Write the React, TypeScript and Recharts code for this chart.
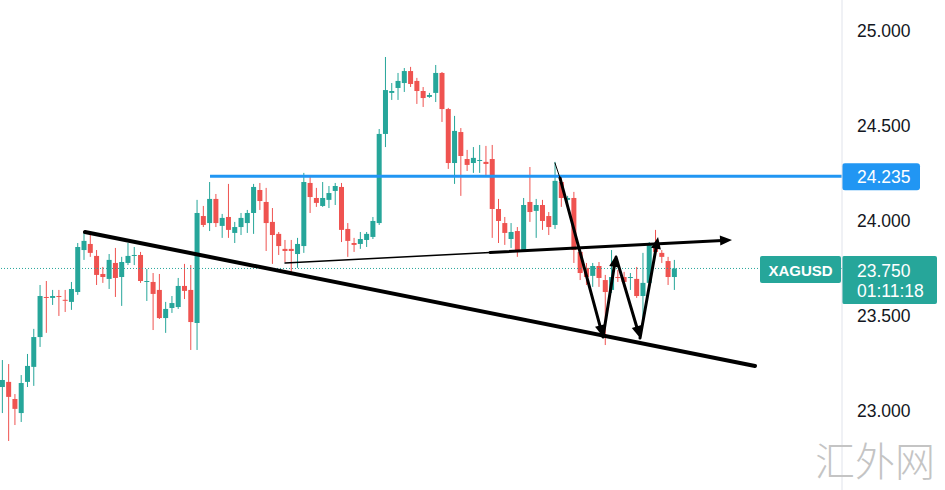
import React from "react";
import { ComposedChart, Bar, XAxis, YAxis, ReferenceLine } from "recharts";

// XAGUSD candles
const opens = [
  23.126, 23.153, 23.063, 22.989, 23.153, 23.232, 23.389, 23.6, 23.595, 23.605,
  23.585, 23.574, 23.626, 23.847, 23.879, 23.816, 23.721, 23.695, 23.779, 23.705,
  23.779, 23.816, 23.821, 23.679, 23.679, 23.637, 23.489, 23.542, 23.547, 23.658,
  23.637, 23.463, 24.026, 23.989, 24.116, 23.974, 24.021, 23.937, 23.968, 23.989,
  24.042, 24.163, 24.1, 23.995, 23.932, 23.853, 23.853, 23.826, 23.868, 24.2,
  24.121, 24.079, 24.111, 24.158, 24.179, 23.958, 23.884, 23.879, 23.9, 23.916,
  23.989, 24.458, 24.674, 24.7, 24.726, 24.789, 24.737, 24.684, 24.653, 24.674,
  24.779, 24.589, 24.305, 24.468, 24.326, 24.305, 24.316, 24.311, 24.326, 24.063,
  23.989, 23.905, 23.947, 23.847, 24.1, 24.053, 24.084, 24.026, 23.979, 24.205,
  24.111, 24.121, 23.837, 23.753, 23.711, 23.763, 23.689, 23.637, 23.705, 23.705,
  23.7, 23.695, 23.605, 23.674, 23.863, 23.832, 23.789, 23.705,
];
const highs = [
  23.268, 23.247, 23.089, 23.189, 23.3, 23.432, 23.663, 23.684, 23.637, 23.637,
  23.637, 23.679, 23.884, 23.937, 23.942, 23.847, 23.758, 23.826, 23.858, 23.811,
  23.884, 23.863, 23.837, 23.747, 23.726, 23.721, 23.574, 23.605, 23.7, 23.774,
  23.768, 24.111, 24.079, 24.205, 24.142, 24.037, 24.195, 23.995, 24.042, 24.058,
  24.195, 24.2, 24.174, 24.068, 23.942, 23.9, 23.9, 23.911, 24.253, 24.242,
  24.174, 24.205, 24.184, 24.2, 24.2, 23.989, 23.911, 23.942, 23.942, 24.021,
  24.484, 24.863, 24.726, 24.779, 24.805, 24.811, 24.753, 24.705, 24.674, 24.821,
  24.784, 24.595, 24.553, 24.489, 24.374, 24.389, 24.4, 24.395, 24.4, 24.116,
  24.021, 23.989, 23.968, 24.121, 24.284, 24.116, 24.111, 24.047, 24.311, 24.232,
  24.132, 24.153, 23.858, 23.779, 23.779, 23.784, 23.716, 23.847, 23.742, 23.732,
  23.726, 23.758, 23.832, 23.889, 23.953, 23.847, 23.811, 23.795,
];
const lows = [
  22.989, 22.842, 22.926, 22.942, 23.126, 23.132, 23.337, 23.411, 23.558, 23.5,
  23.521, 23.532, 23.611, 23.795, 23.811, 23.663, 23.674, 23.642, 23.6, 23.553,
  23.768, 23.768, 23.674, 23.579, 23.426, 23.484, 23.411, 23.516, 23.537, 23.589,
  23.321, 23.321, 23.968, 23.947, 23.968, 23.911, 23.911, 23.884, 23.926, 23.937,
  23.932, 24.058, 23.842, 23.774, 23.821, 23.784, 23.716, 23.753, 23.832, 24.042,
  24.074, 24.074, 24.068, 24.084, 23.889, 23.811, 23.837, 23.853, 23.863, 23.905,
  23.979, 24.389, 24.637, 24.637, 24.679, 24.705, 24.616, 24.6, 24.648, 24.626,
  24.521, 24.274, 24.195, 24.132, 24.263, 24.253, 24.253, 24.232, 23.911, 23.884,
  23.874, 23.858, 23.811, 23.837, 23.995, 23.911, 23.953, 23.926, 23.958, 24.074,
  24.058, 23.779, 23.689, 23.663, 23.653, 23.653, 23.347, 23.621, 23.679, 23.653,
  23.637, 23.595, 23.463, 23.653, 23.832, 23.779, 23.663, 23.637,
];
const closes = [
  23.163, 23.074, 23.011, 23.147, 23.237, 23.389, 23.605, 23.595, 23.605, 23.6,
  23.58, 23.642, 23.863, 23.895, 23.832, 23.716, 23.705, 23.795, 23.7, 23.784,
  23.816, 23.821, 23.684, 23.684, 23.616, 23.489, 23.537, 23.568, 23.658, 23.632,
  23.468, 24.042, 23.979, 24.116, 23.989, 24.016, 23.953, 23.968, 24.016, 24.042,
  24.179, 24.105, 23.989, 23.926, 23.868, 23.842, 23.842, 23.879, 24.205, 24.126,
  24.095, 24.121, 24.147, 24.184, 23.953, 23.895, 23.874, 23.905, 23.932, 24.0,
  24.458, 24.689, 24.684, 24.737, 24.789, 24.721, 24.684, 24.647, 24.663, 24.779,
  24.589, 24.305, 24.474, 24.342, 24.295, 24.332, 24.321, 24.3, 24.063, 24.0,
  23.937, 23.942, 23.837, 24.084, 24.047, 24.084, 24.0, 23.968, 24.211, 24.121,
  24.121, 23.847, 23.726, 23.705, 23.763, 23.7, 23.626, 23.705, 23.7, 23.679,
  23.705, 23.605, 23.674, 23.874, 23.837, 23.811, 23.705, 23.75,
];

const priceTicks = [23, 23.5, 24, 24.5, 25];
const resistance = 24.235;
const lastPrice = 23.75;
const symbol = "XAGUSD";
const countdown = "01:11:18";

// hand-drawn annotations, in [bar index, price]
const trendLine = [[13.21, 23.942], [119.9, 23.237]];
const resistanceSpan = [[33.12, resistance], [133.75, resistance]];
const neckThin = [[45.06, 23.779], [77.71, 23.834]];
const neckThick = [[77.71, 23.834], [116.24, 23.9]];
const wThin = [[88.05, 24.305], [88.85, 24.226]];
const wArrows = [
  [[88.85, 24.226], [95.7, 23.389]],
  [[95.7, 23.389], [97.77, 23.821]],
  [[97.77, 23.81], [101.59, 23.384]],
  [[101.59, 23.384], [104.46, 23.916]],
];

const UP = "#26a69a";
const DOWN = "#ef5350";
const BLUE = "#2196f3";
const FONT = '"Liberation Sans", Arial, sans-serif';

const rows = opens.map((o, i) => ({ i, o, h: highs[i], l: lows[i], c: closes[i] }));

function Candle(props: any) {
  const { x, y, width, height, payload } = props;
  const { o, h, l, c } = payload;
  const top = Math.min(y, y + height);
  const span = Math.abs(height);
  const k = h - l > 0 ? span / (h - l) : 0;
  const yOf = (v: number) => top + (h - v) * k;
  const color = c >= o ? UP : DOWN;
  const cx = x + width / 2;
  const bodyTop = yOf(Math.max(o, c));
  const bodyH = Math.max(1, Math.abs(yOf(o) - yOf(c)));
  return (
    <g>
      <line x1={cx} x2={cx} y1={top} y2={top + span} stroke={color} strokeWidth={1} />
      <rect x={cx - 2.5} y={bodyTop} width={5} height={bodyH} fill={color} />
    </g>
  );
}

const arrowShape = (w: number, head: boolean) => (p: any) => {
  const { x1, y1, x2, y2 } = p;
  const dx = x2 - x1;
  const dy = y2 - y1;
  const len = Math.hypot(dx, dy) || 1;
  const ux = dx / len;
  const uy = dy / len;
  const hl = 12;
  const hw = 5;
  const ex = head ? x2 - ux * hl * 0.8 : x2;
  const ey = head ? y2 - uy * hl * 0.8 : y2;
  return (
    <g>
      <line x1={x1} y1={y1} x2={ex} y2={ey} stroke="#000" strokeWidth={w} strokeLinecap="round" />
      {head && (
        <polygon
          points={`${x2},${y2} ${x2 - ux * hl - uy * hw},${y2 - uy * hl + ux * hw} ${x2 - ux * hl + uy * hw},${y2 - uy * hl - ux * hw}`}
          fill="#000"
        />
      )}
    </g>
  );
};

const seg = (pts: number[][]) => pts.map(([x, y]) => ({ x, y }));

function BlueTag(props: any) {
  const vb = props.viewBox || {};
  const right = vb.x + vb.width;
  const y = vb.y;
  return (
    <g>
      <rect x={right} y={y - 13} width={78} height={27} rx={3} fill={BLUE} />
      <text x={right + 15} y={y + 6.5} fill="#fff" fontSize={17.5} fontFamily={FONT}>
        {resistance.toFixed(3)}
      </text>
    </g>
  );
}

function LastTag(props: any) {
  const vb = props.viewBox || {};
  const right = vb.x + vb.width;
  const y = vb.y;
  return (
    <g>
      <rect x={right - 82} y={y - 12.5} width={81} height={27} rx={2} fill={UP} />
      <text x={right - 41.5} y={y + 7.5} fill="#fff" fontSize={15} fontWeight="bold" textAnchor="middle" fontFamily={FONT}>
        {symbol}
      </text>
      <rect x={right} y={y - 12.5} width={95} height={48} rx={2} fill={UP} />
      <text x={right + 15} y={y + 8.5} fill="#fff" fontSize={17.5} fontFamily={FONT}>
        {lastPrice.toFixed(3)}
      </text>
      <text x={right + 15} y={y + 29} fill="#fff" fontSize={17.5} fontFamily={FONT}>
        {countdown}
      </text>
    </g>
  );
}

export default function App() {
  return (
    <div style={{ position: "absolute", left: 0, top: 0, width: 945, height: 490, background: "#fff" }}>
      <ComposedChart
        width={945}
        height={490}
        data={rows}
        margin={{ top: 0, right: 0, bottom: 0, left: 0 }}
        style={{ fontFamily: FONT }}
      >
        <XAxis type="number" dataKey="i" hide domain={[-0.32, 133.75]} allowDataOverflow />
        <YAxis
          orientation="right"
          width={103}
          domain={[22.584, 25.163]}
          ticks={priceTicks}
          allowDataOverflow
          tickFormatter={(v: number) => v.toFixed(3)}
          axisLine={{ stroke: "#e0e3eb" }}
          tickLine={false}
          tickSize={6}
          tickMargin={9}
          tick={{ fill: "#131722", fontSize: 17.5, fontFamily: FONT }}
        />
        <ReferenceLine
          y={lastPrice}
          stroke={UP}
          strokeDasharray="1 2"
          strokeWidth={1}
          label={{ content: LastTag } as any}
        />
        <Bar
          dataKey={(d: any) => [d.l, d.h]}
          barSize={5}
          shape={Candle}
          isAnimationActive={false}
        />
        <ReferenceLine segment={seg(resistanceSpan)} stroke={BLUE} strokeWidth={3} ifOverflow="visible" />
        <ReferenceLine y={resistance} stroke="none" label={{ content: BlueTag } as any} />
        <ReferenceLine segment={seg(trendLine)} ifOverflow="visible" shape={arrowShape(4, false)} />
        <ReferenceLine segment={seg(neckThin)} ifOverflow="visible" shape={arrowShape(1.5, false)} />
        <ReferenceLine segment={seg(neckThick)} ifOverflow="visible" shape={arrowShape(3, true)} />
        <ReferenceLine segment={seg(wThin)} ifOverflow="visible" shape={arrowShape(1, false)} />
        {wArrows.map((a, k) => (
          <ReferenceLine key={k} segment={seg(a)} ifOverflow="visible" shape={arrowShape(3, true)} />
        ))}
      </ComposedChart>
      <div
        style={{
          position: "absolute",
          left: 815,
          top: 439,
          fontSize: 40,
          lineHeight: 1,
          color: "#c4c4c4",
          fontFamily: '"Noto Sans CJK SC", sans-serif',
          fontWeight: 300,
        }}
      >
        汇外网
      </div>
    </div>
  );
}
